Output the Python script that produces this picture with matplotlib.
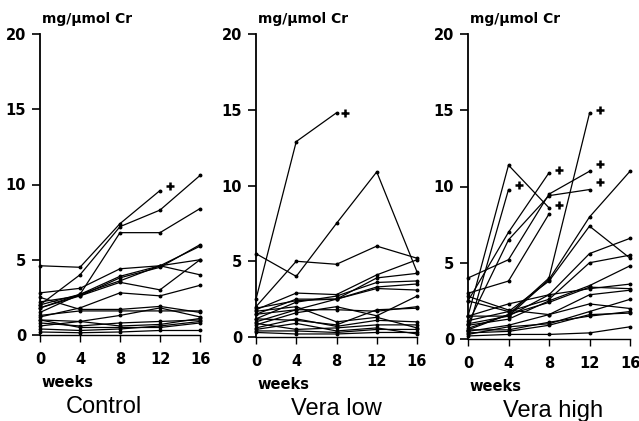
import numpy as np
import matplotlib
matplotlib.use("Agg")
import matplotlib.pyplot as plt

plt.rcParams['font.family'] = ['DejaVu Sans']

weeks = [0, 4, 8, 12, 16]
nan = np.nan

# mg/umol Cr per patient, one row per line
control = [
    [4.6, 4.5, 7.4, 9.6, nan],
    [2.0, 4.0, 7.2, 8.3, 10.6],
    [1.8, 2.7, 6.8, 6.8, 8.4],
    [2.8, 3.1, 4.4, 4.6, 5.0],
    [2.0, 2.7, 3.6, 4.6, 4.0],
    [2.2, 2.6, 3.5, 3.0, 5.0],
    [1.8, 2.6, 3.8, 4.5, 6.0],
    [1.5, 2.7, 3.9, 4.6, 5.9],
    [1.2, 1.8, 2.8, 2.6, 3.3],
    [2.5, 1.7, 1.7, 1.9, 1.5],
    [1.3, 1.6, 1.6, 1.6, 1.6],
    [1.0, 0.9, 1.3, 1.8, 1.2],
    [0.8, 0.6, 0.8, 0.9, 1.0],
    [0.6, 0.9, 0.6, 0.7, 1.1],
    [1.0, 0.5, 0.5, 0.5, 0.8],
    [0.4, 0.3, 0.4, 0.6, 0.9],
    [0.2, 0.15, 0.2, 0.3, 0.3],
]
control_drop = [(13, 9.9)]

vera_low = [
    [2.5, 12.9, 14.8, nan, nan],
    [5.5, 4.0, 7.5, 10.9, 4.3],
    [2.0, 5.0, 4.8, 6.0, 5.2],
    [1.8, 2.9, 2.8, 4.1, 5.1],
    [1.5, 2.5, 2.5, 3.9, 4.2],
    [1.2, 2.3, 2.7, 3.6, 3.7],
    [1.0, 1.8, 2.5, 3.3, 3.5],
    [1.9, 2.4, 2.5, 3.2, 3.1],
    [0.8, 1.6, 2.0, 1.4, 2.7],
    [1.5, 1.8, 1.8, 1.7, 2.0],
    [1.2, 1.1, 0.8, 1.8, 1.9],
    [1.7, 2.0, 1.0, 1.3, 0.6],
    [0.6, 1.2, 0.7, 1.1, 1.0],
    [0.9, 0.5, 0.6, 0.8, 0.8],
    [0.5, 0.9, 0.4, 0.6, 0.2],
    [0.4, 0.4, 0.3, 0.5, 0.5],
    [0.3, 0.2, 0.2, 0.3, 0.3],
]
vera_low_drop = [(8.8, 14.8)]

vera_high = [
    [1.5, 11.4, 8.6, nan, nan],
    [0.5, 9.8, nan, nan, nan],
    [2.5, 7.0, 10.9, nan, nan],
    [1.0, 6.5, 9.4, 9.8, nan],
    [4.0, 5.2, 9.5, 11.0, nan],
    [3.0, 3.8, 8.2, nan, nan],
    [0.6, 1.6, 4.0, 14.8, nan],
    [1.0, 1.5, 3.9, 8.0, 11.0],
    [2.5, 1.8, 3.8, 7.4, 5.3],
    [1.5, 1.5, 2.9, 5.6, 6.6],
    [1.2, 1.8, 2.6, 5.0, 5.5],
    [0.9, 1.3, 2.5, 3.5, 4.8],
    [1.5, 2.3, 2.9, 3.3, 3.6],
    [0.7, 1.6, 2.4, 3.4, 3.3],
    [2.8, 1.9, 1.6, 2.9, 3.2],
    [0.5, 0.9, 1.6, 2.3, 2.0],
    [0.3, 0.8, 1.0, 1.8, 2.6],
    [0.6, 0.6, 1.1, 1.5, 1.8],
    [0.4, 0.5, 0.9, 1.6, 1.7],
    [0.2, 0.3, 0.3, 0.4, 0.8],
]
vera_high_drop = [(5.0, 10.1), (9.0, 11.1), (9.0, 8.8), (13.0, 15.0), (13.0, 11.5), (13.0, 10.3)]

panels = [
    ("Control", control, control_drop, [40, 335, 200, 34], 6.4),
    ("Vera low", vera_low, vera_low_drop, [256, 337, 417, 34], 8.0),
    ("Vera high", vera_high, vera_high_drop, [468, 339, 630, 34], 8.4),
]

W, H = 639, 421
fig = plt.figure(figsize=(W / 100, H / 100), dpi=100)

for title, rows, drops, (x0, y0, x1, y1), title_x in panels:
    ax = fig.add_axes([x0 / W, 1 - y0 / H, (x1 - x0) / W, (y0 - y1) / H])
    hpx = y0 - y1
    for r in rows:
        ax.plot(weeks, r, color='black', lw=0.9, marker='o', ms=1.8, clip_on=False)
    for dx, dy in drops:
        ax.plot(dx, dy, marker='+', ms=6, mew=1.8, color='black', clip_on=False)
    ax.set_xlim(0, 16)
    ax.set_ylim(0, 20)
    ax.set_xticks(weeks)
    ax.set_yticks([0, 5, 10, 15, 20])
    ax.spines['top'].set_visible(False)
    ax.spines['right'].set_visible(False)
    ax.spines['left'].set_linewidth(1.3)
    ax.spines['bottom'].set_linewidth(1.0)
    ax.tick_params(axis='y', length=6, width=1.2, pad=4, labelsize=10.5)
    ax.tick_params(axis='x', length=5, width=1.0, pad=7, labelsize=10.5)
    for lab in ax.get_xticklabels() + ax.get_yticklabels():
        lab.set_fontweight('bold')
    ax.text(0.01, 1 + 11 / hpx, "mg/µmol Cr", transform=ax.transAxes, fontsize=10,
            fontweight='bold', ha='left', va='baseline')
    ax.text(0.01, -40 / hpx, "weeks", transform=ax.transAxes, fontsize=10.5,
            fontweight='bold', ha='left', va='top')
    ax.text(title_x, -78 / hpx * 20, title, fontsize=17, family='Liberation Sans',
            ha='center', va='baseline', clip_on=False)

fig.savefig("out.png", dpi=100)
